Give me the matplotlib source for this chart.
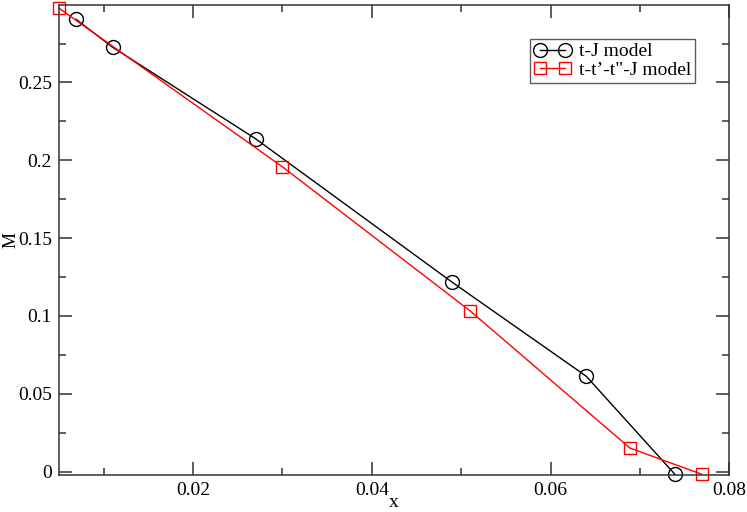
import matplotlib
matplotlib.use("Agg")
import matplotlib.pyplot as plt
from matplotlib.ticker import MultipleLocator

plt.rcParams['font.family'] = ['Liberation Serif', 'DejaVu Serif']

tj_x = [0.0069, 0.011, 0.027, 0.049, 0.064, 0.0739]
tj_m = [0.2906, 0.2726, 0.2138, 0.1216, 0.0612, -0.0017]
ttj_x = [0.005, 0.030, 0.051, 0.0689, 0.0769]
ttj_m = [0.2977, 0.1958, 0.1032, 0.0150, -0.0017]

fig = plt.figure(figsize=(7.47, 5.12), dpi=100)
ax = fig.add_axes([0.079, 0.073, 0.8973, 0.917])

ax.plot(tj_x, tj_m, color='black', lw=1.0, marker='o', ms=10,
        mfc='none', mec='black', mew=1.0, label='t-J model', clip_on=False)
ax.plot(ttj_x, ttj_m, color='red', lw=1.0, marker='s', ms=8.6,
        mfc='none', mec='red', mew=1.0, label='t-t\u2019-t"-J model',
        clip_on=False)

ax.set_xlim(0.005, 0.08)
ax.set_ylim(-0.002, 0.2997)
ax.xaxis.set_minor_locator(MultipleLocator(0.01))
ax.yaxis.set_minor_locator(MultipleLocator(0.025))
ax.set_xticks([0.02, 0.04, 0.06, 0.08])
ax.set_xticklabels(['0.02', '0.04', '0.06', '0.08'])
ax.set_yticks([0, 0.05, 0.1, 0.15, 0.2, 0.25])
ax.set_yticklabels(['0', '0.05', '0.1', '0.15', '0.2', '0.25'])

ax.tick_params(which='both', direction='in', top=True, right=True,
               labelsize=14, width=1.1, color='#333333')
ax.tick_params(which='major', length=9.5, pad=5)
ax.tick_params(which='minor', length=5)
for s in ax.spines.values():
    s.set_linewidth(1.1)
    s.set_color('#333333')

ax.set_xlabel('x', fontsize=14, labelpad=-3)
ax.set_ylabel('M', fontsize=13)
ax.yaxis.set_label_coords(-0.059, 0.5)

leg = ax.legend(loc='upper right', bbox_to_anchor=(0.949, 0.928), numpoints=2,
                fontsize=14, fancybox=False, frameon=True, handlelength=1.9,
                handletextpad=0.4, borderpad=0.2, labelspacing=0.05,
                borderaxespad=0)
leg.get_frame().set_edgecolor('#333333')
leg.get_frame().set_linewidth(1.0)

fig.savefig('out.png', dpi=100)
